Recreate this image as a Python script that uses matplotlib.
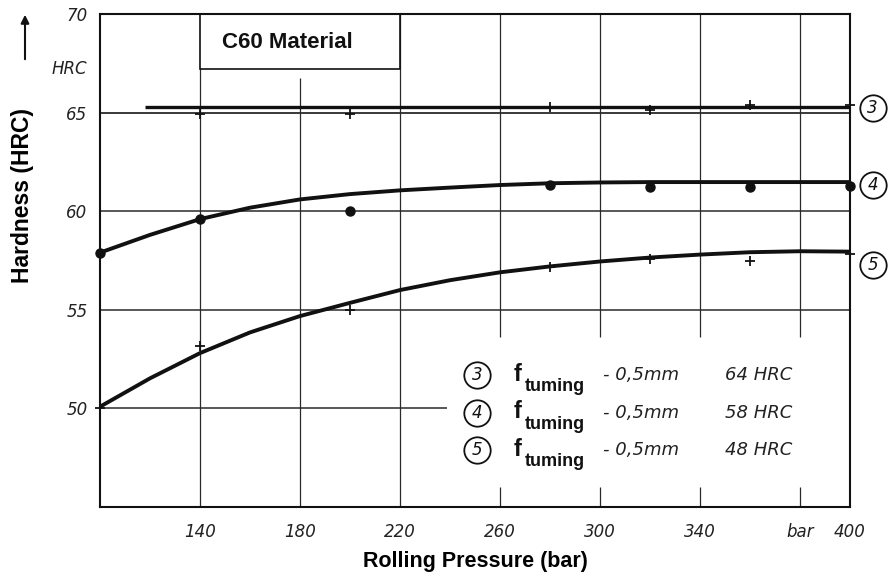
import numpy as np
import matplotlib.pyplot as plt
from matplotlib.patches import Rectangle, FancyArrowPatch

# rolling pressure (bar) and hardness readings (HRC)
pressure_pts = [100, 140, 200, 280, 320, 360, 400]
hrc3_pts = [np.nan, 64.93, 64.95, 65.3, 65.15, 65.4, 65.4]
hrc4_pts = [57.9, 59.6, 60.0, 61.33, 61.25, 61.25, 61.3]
hrc5_pts = [50.0, 53.15, 55.0, 57.15, 57.6, 57.45, 57.85]

# faired curves drawn through the readings
curve_x = [100, 120, 140, 160, 180, 200, 220, 240, 260, 280, 300, 320, 340, 360, 380, 400]
curve4 = [57.9, 58.8, 59.6, 60.18, 60.6, 60.87, 61.06, 61.2, 61.33, 61.42, 61.46,
          61.48, 61.48, 61.48, 61.48, 61.48]
curve5 = [50.08, 51.52, 52.8, 53.85, 54.68, 55.35, 56.0, 56.5, 56.9, 57.2, 57.45,
          57.65, 57.8, 57.92, 57.97, 57.95]
curve3_x = [118, 400]
curve3 = [65.3, 65.3]

x_ticks = [140, 180, 220, 260, 300, 340, 380, 400]
x_labels = ['140', '180', '220', '260', '300', '340', 'bar', '400']
y_ticks = [50, 55, 60, 65, 67.3, 70]
y_labels = ['50', '55', '60', '65', 'HRC', '70']

legend_ids = ['3', '4', '5']
legend_feed = ['- 0,5mm', '- 0,5mm', '- 0,5mm']
legend_hard = ['64 HRC', '58 HRC', '48 HRC']

ink = '#111111'
grid_c = '#2a2a2a'

fig = plt.figure(figsize=(8.88, 5.76), dpi=100)
ax = fig.add_axes([100 / 888, 1 - 506.8 / 576, 750 / 888, (506.8 - 14.2) / 576])
ax.set_xlim(100, 400)
ax.set_ylim(45, 70)

# grid, drawn by hand so it can break around the boxes
for xv in [140, 220, 260, 300, 340, 380]:
    if xv >= 260:
        ax.vlines(xv, 45, 46.0, color=grid_c, lw=0.9, zorder=1)
        ax.vlines(xv, 53.6, 70, color=grid_c, lw=0.9, zorder=1)
    else:
        ax.vlines(xv, 45, 70, color=grid_c, lw=0.9, zorder=1)
ax.vlines(180, 45, 66.75, color=grid_c, lw=0.9, zorder=1)
ax.hlines([55, 60], 100, 400, color=grid_c, lw=1.1, zorder=1)
ax.hlines(65, 100, 400, color=grid_c, lw=1.3, zorder=1)
ax.hlines(50, 100, 238.8, color=grid_c, lw=1.1, zorder=1)

# title box
ax.add_patch(Rectangle((140, 67.22), 80, 2.78, facecolor='white', edgecolor=ink,
                       lw=1.2, zorder=2))
ax.text(149, 68.55, 'C60 Material', fontsize=16, fontweight='bold',
        family='Liberation Sans', va='center', ha='left', color=ink, zorder=3)

# curves and readings
ax.plot(curve3_x, curve3, color=ink, lw=2.4, zorder=4, solid_capstyle='butt')
ax.plot(curve_x, curve4, color=ink, lw=2.8, zorder=4, solid_joinstyle='round')
ax.plot(curve_x, curve5, color=ink, lw=2.8, zorder=4, solid_joinstyle='round')
ax.plot(pressure_pts, hrc3_pts, ls='none', marker='+', ms=7, mew=1.3, color=ink,
        zorder=5, clip_on=False)
ax.plot(pressure_pts, hrc4_pts, ls='none', marker='o', ms=6.5, color=ink,
        zorder=5, clip_on=False)
ax.plot(pressure_pts, hrc5_pts, ls='none', marker='+', ms=7, mew=1.3, color=ink,
        zorder=5, clip_on=False)

# circled curve numbers at the right end
end_y = [65.22, 61.33, 57.27]
for lab, yv in zip(legend_ids, end_y):
    ax.plot([409.1], [yv], marker='o', ms=19, mfc='white', mec=ink, mew=1.3,
            clip_on=False, zorder=6)
    ax.text(409.1, yv, lab, fontsize=12, style='italic', ha='center', va='center',
            color=ink, clip_on=False, zorder=7)

# key
row_y = [51.68, 49.77, 47.88]
for lab, feed, hard, yv in zip(legend_ids, legend_feed, legend_hard, row_y):
    ax.plot([250.9], [yv], marker='o', ms=19, mfc='white', mec=ink, mew=1.3, zorder=6)
    ax.text(250.9, yv, lab, fontsize=12, style='italic', ha='center', va='center',
            color=ink, zorder=7)
    ax.text(265.6, yv + 0.05, 'f', fontsize=17, fontweight='bold',
            family='Liberation Sans', ha='left', va='center', color=ink)
    ax.text(269.8, yv - 0.6, 'tuming', fontsize=13, fontweight='bold',
            family='Liberation Sans', ha='left', va='center', color=ink)
    ax.text(301.2, yv, feed, fontsize=13, style='italic', ha='left', va='center',
            color='#222222')
    ax.text(350, yv, hard, fontsize=13, style='italic', ha='left', va='center',
            color='#222222')

ax.set_xticks(x_ticks)
ax.set_xticklabels(x_labels, fontsize=12, style='italic', color='#222222')
ax.set_yticks(y_ticks)
ax.set_yticklabels(y_labels, fontsize=12, style='italic', color='#222222')
ax.tick_params(length=0)
ax.tick_params(axis='x', pad=12)
ax.tick_params(axis='y', pad=9)
for sp in ax.spines.values():
    sp.set_linewidth(1.5)
    sp.set_color(ink)

ax.set_xlabel('Rolling Pressure (bar)', fontsize=15.5, fontweight='bold',
              family='Liberation Sans', labelpad=7)
fig.text(22 / 888, 1 - 195 / 576, 'Hardness (HRC)', rotation=90, fontsize=16.5,
         fontweight='bold', family='Liberation Sans', ha='center', va='center')

# upward arrow beside the axis unit
fig.add_artist(FancyArrowPatch(
    (25 / 888, 1 - 62 / 576), (25 / 888, 1 - 12 / 576), transform=fig.transFigure,
    arrowstyle='-|>', mutation_scale=12, color=ink, lw=1.5))

fig.savefig('out.png', dpi=100)
